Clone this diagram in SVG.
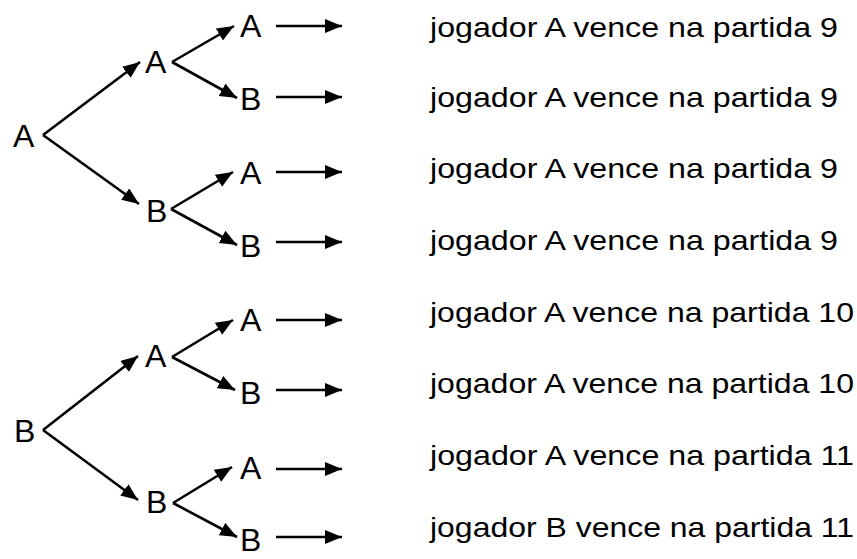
<svg xmlns="http://www.w3.org/2000/svg" width="857" height="559" viewBox="0 0 857 559">
<defs>
<marker id="ah" markerUnits="userSpaceOnUse" markerWidth="18" markerHeight="15" refX="17" refY="7" orient="auto">
<path d="M0,0 L17,7 L0,14 z" fill="#000"/>
</marker>
<style>
.n{font-family:"Liberation Sans",Arial,sans-serif;font-size:32px;fill:#000}
.t{font-family:"Liberation Sans",Arial,sans-serif;font-size:28.5px;fill:#000}
.c line{stroke:#000;stroke-width:2.6;marker-end:url(#ah)}
</style>
</defs>
<rect width="857" height="559" fill="#fff"/>
<g id="connectors" class="c">
<line x1="43" y1="135" x2="140" y2="62"/>
<line x1="43" y1="135" x2="139" y2="204"/>
<line x1="172" y1="62" x2="234" y2="26"/>
<line x1="172" y1="62" x2="237" y2="98"/>
<line x1="171" y1="209" x2="233" y2="172"/>
<line x1="171" y1="209" x2="237" y2="245"/>
<line x1="276" y1="26" x2="342" y2="26"/>
<line x1="276" y1="97" x2="342" y2="97"/>
<line x1="276" y1="172" x2="342" y2="172"/>
<line x1="276" y1="242" x2="342" y2="242"/>
<line x1="43" y1="430" x2="138" y2="356"/>
<line x1="43" y1="430" x2="138" y2="500"/>
<line x1="172" y1="357" x2="233" y2="320"/>
<line x1="172" y1="357" x2="235" y2="390"/>
<line x1="173" y1="503" x2="232" y2="467"/>
<line x1="173" y1="503" x2="237" y2="537"/>
<line x1="276" y1="320" x2="342" y2="320"/>
<line x1="276" y1="390" x2="342" y2="390"/>
<line x1="276" y1="469" x2="342" y2="469"/>
<line x1="276" y1="537" x2="342" y2="537"/>
</g>
<g id="n-root-A"><text class="n" x="13" y="147">A</text></g>
<g id="n-A-A"><text class="n" x="145" y="73">A</text></g>
<g id="n-A-B"><text class="n" x="146" y="222">B</text></g>
<g id="n-AA-A"><text class="n" x="240" y="37">A</text></g>
<g id="n-AA-B"><text class="n" x="240" y="110">B</text></g>
<g id="n-AB-A"><text class="n" x="240" y="184">A</text></g>
<g id="n-AB-B"><text class="n" x="240" y="257">B</text></g>
<g id="n-root-B"><text class="n" x="14" y="442">B</text></g>
<g id="n-B-A"><text class="n" x="145" y="367">A</text></g>
<g id="n-B-B"><text class="n" x="146" y="513">B</text></g>
<g id="n-BA-A"><text class="n" x="240" y="331">A</text></g>
<g id="n-BA-B"><text class="n" x="240" y="404">B</text></g>
<g id="n-BB-A"><text class="n" x="240" y="479">A</text></g>
<g id="n-BB-B"><text class="n" x="240" y="551">B</text></g>
<g id="r1"><text class="t" x="430" y="37" textLength="408" lengthAdjust="spacingAndGlyphs">jogador A vence na partida 9</text></g>
<g id="r2"><text class="t" x="430" y="107" textLength="408" lengthAdjust="spacingAndGlyphs">jogador A vence na partida 9</text></g>
<g id="r3"><text class="t" x="430" y="178" textLength="408" lengthAdjust="spacingAndGlyphs">jogador A vence na partida 9</text></g>
<g id="r4"><text class="t" x="430" y="250" textLength="408" lengthAdjust="spacingAndGlyphs">jogador A vence na partida 9</text></g>
<g id="r5"><text class="t" x="430" y="322" textLength="424" lengthAdjust="spacingAndGlyphs">jogador A vence na partida 10</text></g>
<g id="r6"><text class="t" x="430" y="393" textLength="424" lengthAdjust="spacingAndGlyphs">jogador A vence na partida 10</text></g>
<g id="r7"><text class="t" x="430" y="465" textLength="424" lengthAdjust="spacingAndGlyphs">jogador A vence na partida 11</text></g>
<g id="r8"><text class="t" x="430" y="537" textLength="424" lengthAdjust="spacingAndGlyphs">jogador B vence na partida 11</text></g>
</svg>
